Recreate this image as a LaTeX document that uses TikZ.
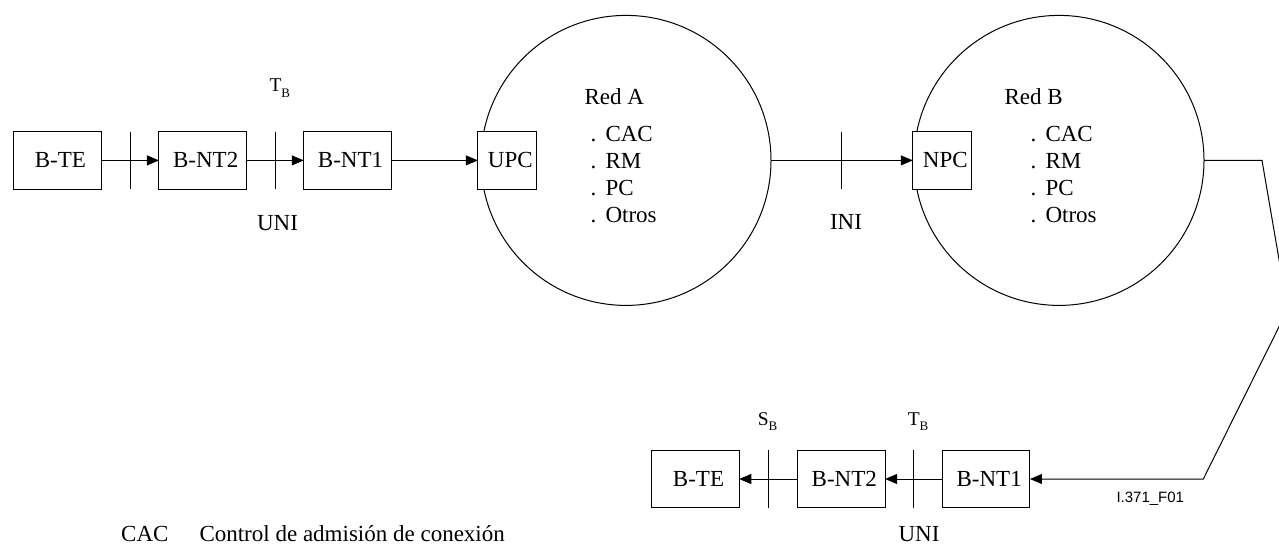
\documentclass[tikz,border=0pt]{standalone}
\usepackage{fontspec}
\setmainfont{Liberation Serif}
\newfontfamily\labelsans{Liberation Sans}
\usetikzlibrary{arrows.meta,calc}

\begin{document}
\begin{tikzpicture}[x=1pt,y=-1pt,
  every node/.style={inner sep=0pt, outer sep=0pt},
  txt/.style={font=\fontsize{23}{27}\selectfont},
  refpt/.style={font=\fontsize{19.5}{20}\selectfont},
  unit/.style={draw, fill=white, line width=1pt, minimum width=87.5pt,
               minimum height=57.5pt, txt, execute at begin node={\hspace*{6pt}}},
  ctrl/.style={unit, minimum width=59pt},
  net/.style={draw, circle, line width=1pt, minimum size=290pt},
  conn/.style={line width=1pt, -{Triangle[length=12pt,width=10pt]}},
  tick/.style={line width=1pt},
]
\useasboundingbox (0,0) rectangle (1279,546);
\clip (0,0) rectangle (1279,546);

% networks
\node[net] (redA) at (626,160.4) {};
\node[net] (redB) at (1059,160.4) {};

% upper chain: terminal towards network A
\node[unit] (teA)  at (57.3,160.4)  {B-TE};
\node[unit] (nt2A) at (202.7,160.4) {B-NT2};
\node[unit] (nt1A) at (347.5,160.4) {B-NT1};
\node[ctrl] (upc)  at (507.3,160.4) {UPC};
\node[ctrl] (npc)  at (942.3,160.4) {NPC};

% lower chain: network B towards terminal
\node[unit] (teB)  at (695.5,479) {B-TE};
\node[unit] (nt2B) at (841.3,479) {B-NT2};
\node[unit] (nt1B) at (986.2,479) {B-NT1};

% network contents
\node[txt, anchor=base west] (nameA) at (584.5,104) {Red A};
\node[txt, anchor=base west] (nameB) at (1004.5,104) {Red B};
\foreach \it [count=\i] in {CAC,RM,PC,Otros}{
  \node[txt, anchor=base west] (itemA\i) at (590.5,{114+27*\i}) {.\hspace{9.25pt}\it};
  \node[txt, anchor=base west] (itemB\i) at (1030.5,{114+27*\i}) {.\hspace{9.25pt}\it};
}

% connectors
\draw[conn] (teA.east) -- (nt2A.west);
\draw[conn] (nt2A.east) -- (nt1A.west);
\draw[conn] (nt1A.east) -- (upc.west);
\draw[conn] (redA.east) -- (npc.west);
\coordinate (bendTop) at (1262,160.4);
\coordinate (apex) at (1287.6,309.5);
\coordinate (bendBot) at (1203.3,479);
\draw[conn] (redB.east) -- (bendTop) -- (apex) -- (bendBot) -- (nt1B.east);
\draw[conn] (nt1B.west) -- (nt2B.east);
\draw[conn] (nt2B.west) -- (teB.east);

% reference points
\coordinate (sA) at ($(teA.east)!.5!(nt2A.west)$);
\coordinate (tA) at ($(nt2A.east)!.5!(nt1A.west)$);
\coordinate (iA) at ($(redA.east)!.5!(npc.west)$);
\coordinate (sB) at ($(teB.east)!.5!(nt2B.west)$);
\coordinate (tB) at ($(nt2B.east)!.5!(nt1B.west)$);
\draw[tick] (sA |- teA.north) -- (sA |- teA.south);
\draw[tick] (tA |- teA.north) -- (tA |- teA.south);
\draw[tick] (iA |- npc.north) -- (iA |- npc.south);
\draw[tick] (sB |- teB.north) -- (sB |- teB.south);
\draw[tick] (tB |- teB.north) -- (tB |- teB.south);

% labels
\node[refpt, anchor=base west] (tbA) at (269.5,91.7)
  {T\raisebox{-6pt}{\fontsize{13}{13}\selectfont B}};
\node[txt] (uniA) at (277.5,223) {UNI};
\node[txt] (iniLbl) at (846,222) {INI};
\node[refpt, anchor=base west] (sbB) at (757.8,425)
  {S\raisebox{-5pt}{\fontsize{13}{13}\selectfont B}};
\node[refpt, anchor=base west] (tbB) at (907.8,425)
  {T\raisebox{-5pt}{\fontsize{13}{13}\selectfont B}};
\node[txt, anchor=base] (uniB) at (919,541) {UNI};
\node[font=\labelsans\fontsize{15}{16}\selectfont, anchor=base west] (figid)
  at (1116.5,502) {I.371\_F01};

% legend
\node[txt, anchor=base west] (legAbbr) at (121.2,541) {CAC};
\node[txt, anchor=base west] (legText) at (199.5,541) {Control de admisión de conexión};
\end{tikzpicture}
\end{document}
